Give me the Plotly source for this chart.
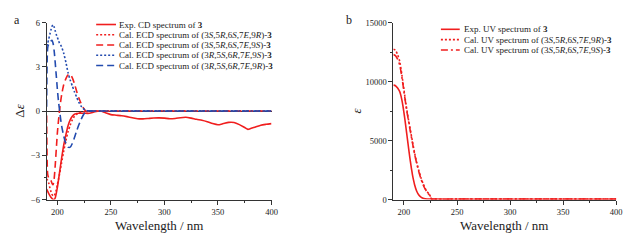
import plotly.graph_objects as go

# ---------------- Panel a: CD / ECD ----------------
wl_exp_cd = [190, 192, 194, 196, 197, 198, 200, 202, 204, 206, 208, 210, 212, 214, 216, 218, 220,
             225, 230, 235, 240, 245, 250, 255, 260, 265, 270, 275, 280, 285, 290, 295, 300, 305,
             310, 315, 320, 325, 330, 335, 340, 345, 350, 355, 360, 365, 370, 375, 378, 380, 385,
             390, 395, 400]
cd_exp = [-5.3, -5.6, -5.85, -6.0, -6.0, -5.9, -5.2, -4.2, -3.2, -2.3, -1.6, -1.0, -0.6, -0.35,
          -0.22, -0.17, -0.15, -0.15, -0.15, -0.05, 0.0, -0.12, -0.24, -0.28, -0.32, -0.38, -0.45,
          -0.52, -0.53, -0.5, -0.47, -0.46, -0.48, -0.52, -0.5, -0.45, -0.42, -0.48, -0.56, -0.62,
          -0.72, -0.85, -0.93, -0.85, -0.77, -0.78, -0.92, -1.12, -1.24, -1.2, -1.08, -0.96, -0.9,
          -0.85]

wl_cal_cd = [190, 191, 192, 193, 194, 195, 196, 197, 198, 199, 200, 201, 202, 203, 204, 206, 208,
             210, 212, 214, 216, 218, 220, 222, 224, 226, 228, 230, 235, 240, 260, 300, 350, 400]
cd_3S5R6S7E9R = [-4.6, -4.7, -4.9, -5.2, -5.45, -5.65, -5.75, -5.75, -5.6, -5.35, -5.0, -4.65,
                 -4.3, -3.9, -3.5, -2.7, -2.0, -1.4, -0.95, -0.6, -0.36, -0.22, -0.13, -0.08,
                 -0.05, -0.03, -0.02, -0.01, 0.0, 0.0, 0.0, 0.0, 0.0, 0.0]
cd_3S5R6S7E9S = [-0.3, -4.3, -4.55, -4.6, -4.7, -4.9, -5.0, -4.6, -3.7, -2.6, -1.5, -0.7, 0.0,
                 0.6, 1.1, 1.8, 2.2, 2.45, 2.5, 2.25, 1.85, 1.35, 0.9, 0.55, 0.25, 0.05, -0.05,
                 -0.03, 0.0, 0.0, 0.0, 0.0, 0.0, 0.0]
cd_3R5S6R7E9S = [4.4, 4.6, 4.9, 5.2, 5.5, 5.75, 5.85, 5.7, 5.45, 5.2, 5.0, 4.8, 4.6, 4.5, 4.35,
                 3.9, 3.3, 2.6, 2.1, 1.7, 1.3, 0.95, 0.6, 0.35, 0.18, 0.07, 0.02, 0.0, 0.0, 0.0,
                 0.0, 0.0, 0.0, 0.0]
cd_3R5S6R7E9R = [0.3, 4.3, 4.55, 4.65, 4.75, 4.8, 4.6, 4.1, 3.3, 2.4, 1.5, 0.7, 0.1, -0.5, -1.0,
                 -1.7, -2.2, -2.45, -2.45, -2.2, -1.8, -1.35, -0.95, -0.6, -0.3, -0.1, 0.0,
                 0.02, 0.0, 0.0, 0.0, 0.0, 0.0, 0.0]

# ---------------- Panel b: UV ----------------
wl_exp_uv = [190, 192, 194, 196, 197, 198, 199, 200, 201, 202, 203, 204, 205, 206, 207, 208, 209,
             210, 212, 214, 216, 218, 220, 225, 230, 250, 300, 350, 400]
uv_exp = [9700, 9650, 9450, 9150, 8850, 8450, 7950, 7350, 6700, 6000, 5300, 4600, 3900, 3250,
          2650, 2100, 1650, 1250, 700, 380, 200, 110, 70, 40, 30, 25, 25, 25, 25]

wl_cal_uv = [190, 192, 194, 196, 198, 200, 202, 204, 206, 208, 210, 212, 214, 216, 218, 220, 222,
             224, 225, 226, 230, 250, 300, 350, 400]
uv_3S5R6S7E9R = [12750, 12650, 12300, 11700, 10600, 9300, 8000, 6900, 5900, 4900, 3950, 3150, 2450,
                 1850, 1350, 950, 650, 420, 250, 40, 30, 30, 30, 30, 30]
uv_3S5R6S7E9S = [12300, 12200, 11900, 11400, 10400, 9150, 7900, 6800, 5800, 4800, 3850, 3050, 2350,
                 1750, 1250, 880, 600, 380, 220, 40, 30, 30, 30, 30, 30]

x_ticks = [200, 250, 300, 350, 400]
y_ticks_a = [-6, -3, 0, 3, 6]
y_ticks_b = [0, 5000, 10000, 15000]

legend_a = [
    "Exp. CD spectrum of <b>3</b>",
    "Cal. ECD spectrum of (3<i>S</i>,5<i>R</i>,6<i>S</i>,7<i>E</i>,9<i>R</i>)-<b>3</b>",
    "Cal. ECD spectrum of (3<i>S</i>,5<i>R</i>,6<i>S</i>,7<i>E</i>,9<i>S</i>)-<b>3</b>",
    "Cal. ECD spectrum of (3<i>R</i>,5<i>S</i>,6<i>R</i>,7<i>E</i>,9<i>S</i>)-<b>3</b>",
    "Cal. ECD spectrum of (3<i>R</i>,5<i>S</i>,6<i>R</i>,7<i>E</i>,9<i>R</i>)-<b>3</b>",
]
legend_b = [
    "Exp. UV spectrum of <b>3</b>",
    "Cal. UV spectrum of (3<i>S</i>,5<i>R</i>,6<i>S</i>,7<i>E</i>,9<i>R</i>)-<b>3</b>",
    "Cal. UV spectrum of (3<i>S</i>,5<i>R</i>,6<i>S</i>,7<i>E</i>,9<i>S</i>)-<b>3</b>",
]

RED = "rgb(240,30,30)"
BLUE = "rgb(35,75,175)"
FONT = "Liberation Serif"
W, H = 641, 244
OFF = 8  # page body margin


def px(x):
    return (x - OFF) / W


def py(y):
    return 1 - (y - OFF) / H


styles_a = [(RED, "solid"), (RED, "2px,2px"), (RED, "7px,4px"), (BLUE, "2px,2px"), (BLUE, "7px,4px")]
styles_b = [(RED, "solid"), (RED, "2px,2px"), (RED, "7px,3px,2px,3px")]

fig = go.Figure()
series_a = [(wl_exp_cd, cd_exp), (wl_cal_cd, cd_3S5R6S7E9R), (wl_cal_cd, cd_3S5R6S7E9S),
            (wl_cal_cd, cd_3R5S6R7E9S), (wl_cal_cd, cd_3R5S6R7E9R)]
for (xs, ys), (c, d), name in zip(series_a, styles_a, legend_a):
    fig.add_trace(go.Scatter(x=xs, y=ys, mode="lines", name=name, showlegend=False,
                             line=dict(color=c, dash=d, width=1.6, shape="spline", smoothing=0.6),
                             xaxis="x", yaxis="y"))
series_b = [(wl_exp_uv, uv_exp), (wl_cal_uv, uv_3S5R6S7E9R), (wl_cal_uv, uv_3S5R6S7E9S)]
for (xs, ys), (c, d), name in zip(series_b, styles_b, legend_b):
    fig.add_trace(go.Scatter(x=xs, y=ys, mode="lines", name=name, showlegend=False,
                             line=dict(color=c, dash=d, width=1.6, shape="spline", smoothing=0.6),
                             xaxis="x2", yaxis="y2"))

ydom = [py(202.5), py(18)]
axis_common = dict(showline=True, linecolor="#333", linewidth=1, ticks="outside", ticklen=4,
                   tickcolor="#333", showgrid=False, mirror=False, tickformat="d",
                   tickfont=dict(family=FONT, size=8.5, color="#222"))


def minor(dt, t0):
    return dict(ticks="outside", ticklen=2, tickcolor="#333", dtick=dt, tick0=t0, showgrid=False)


fig.update_layout(
    width=W, height=H, margin=dict(l=0, r=0, t=0, b=0),
    paper_bgcolor="white", plot_bgcolor="white", showlegend=False,
    xaxis=dict(domain=[px(47), px(274)], range=[190, 400], tickvals=x_ticks, anchor="y",
               zeroline=False, minor=minor(25, 200), **axis_common),
    yaxis=dict(domain=ydom, range=[-6, 6], tickvals=y_ticks_a, anchor="x",
               zeroline=True, zerolinecolor="#333", zerolinewidth=1,
               minor=minor(1.5, 0), **axis_common),
    xaxis2=dict(domain=[px(397), px(622)], range=[190, 400], tickvals=x_ticks, anchor="y2",
                zeroline=False, minor=minor(25, 200), **axis_common),
    yaxis2=dict(domain=ydom, range=[0, 15000], tickvals=y_ticks_b, anchor="x2", zeroline=False,
                minor=minor(2500, 0), **axis_common),
)

ann = []


def text(t, x, y, size, angle=0, xanchor="center"):
    ann.append(dict(text=t, x=px(x), y=py(y), xref="paper", yref="paper", showarrow=False,
                    xanchor=xanchor, yanchor="middle", textangle=angle,
                    font=dict(family=FONT, size=size, color="#222")))


# panel labels
text("a", 17, 15, 12)
text("b", 352, 15, 12)
# axis titles
for cx in [(47 + 274) / 2, (397 + 622) / 2]:
    text("Wavelength / nm", cx, 230, 13)
text("Δ<i>ε</i>", 20, 110, 13, angle=-90)
text("<i>ε</i>", 360, 110, 13, angle=-90)

shapes = []
# manual legends
for i, (name, (c, d)) in enumerate(zip(legend_a, styles_a)):
    yy = 20 + 10.7 * i
    shapes.append(dict(type="line", xref="paper", yref="paper", x0=px(97), x1=px(117),
                       y0=py(yy), y1=py(yy), line=dict(color=c, dash=d, width=1.6)))
    text(name, 118, yy, 9, xanchor="left")
for i, (name, (c, d)) in enumerate(zip(legend_b, styles_b)):
    yy = 25 + 10.8 * i
    shapes.append(dict(type="line", xref="paper", yref="paper", x0=px(445), x1=px(464),
                       y0=py(yy), y1=py(yy), line=dict(color=c, dash=d, width=1.6)))
    text(name, 466, yy, 9, xanchor="left")

fig.update_layout(annotations=ann, shapes=shapes)
fig.write_html("out.html")
